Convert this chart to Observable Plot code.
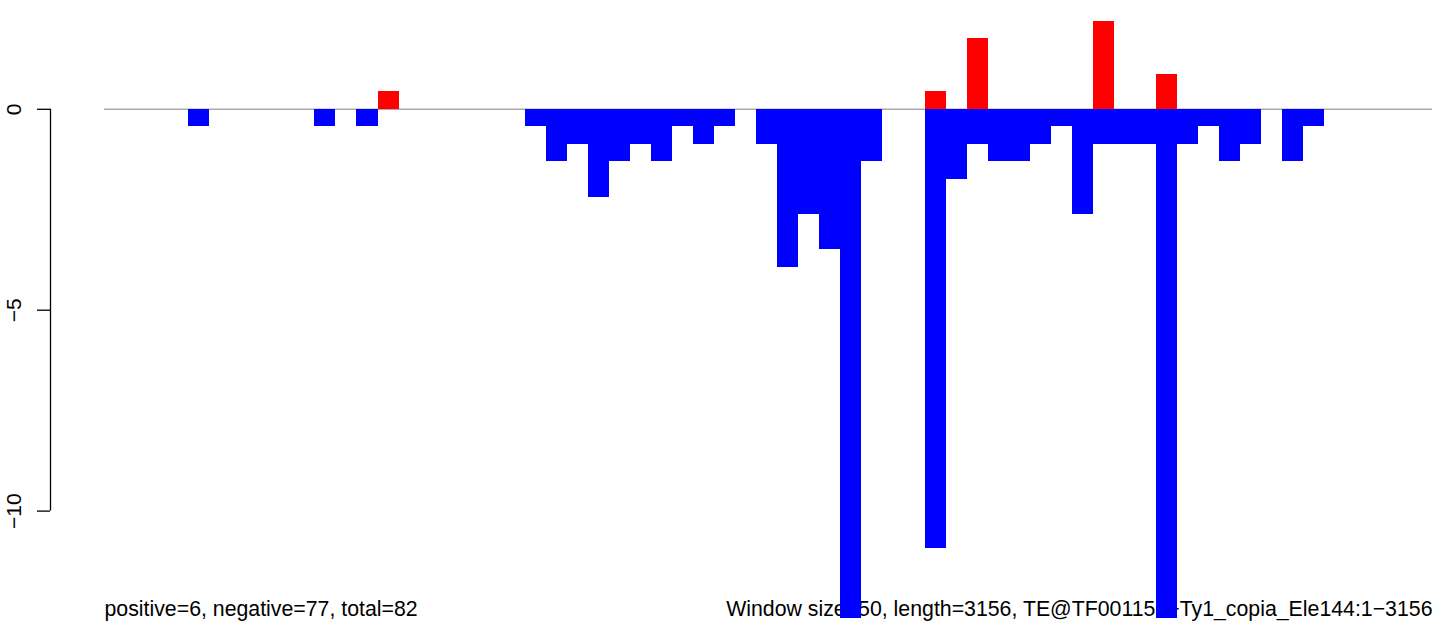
<!DOCTYPE html>
<html>
<head>
<meta charset="utf-8">
<script src="https://cdn.jsdelivr.net/npm/d3@7"></script>
<script src="https://cdn.jsdelivr.net/npm/@observablehq/plot@0.6"></script>
<style>
  html, body { margin: 0; padding: 0; background: #fff; overflow: hidden; }
  #chart svg { display: block; }
</style>
</head>
<body>
<div id="chart"></div>
<script>
// ---- data ----
const windowSize = 50;
const teLength = 3156;

// window start positions (bp) and values of the negative-strand bars
const negStarts = [200, 500, 600, 1000, 1050, 1100, 1150, 1200, 1250, 1300, 1350, 1400, 1450,
  1550, 1600, 1650, 1700, 1750, 1800,
  1950, 2000, 2050, 2100, 2150, 2200, 2250, 2300, 2350, 2400, 2450, 2500, 2550, 2600, 2650, 2700,
  2800, 2850];
const negValues = [-0.44, -0.44, -0.44, -0.44, -1.31, -0.87, -2.19, -1.31, -0.87, -1.31, -0.44, -0.87, -0.44,
  -0.87, -3.93, -2.62, -3.50, -12.68, -1.31,
  -10.93, -1.75, -0.87, -1.31, -1.31, -0.87, -0.44, -2.62, -0.87, -0.87, -0.87, -12.68, -0.87, -0.44, -1.31, -0.87,
  -1.31, -0.44];

// window start positions (bp) and values of the positive-strand bars
const posStarts = [650, 1950, 2050, 2350, 2500];
const posValues = [0.44, 0.44, 1.75, 2.19, 0.87];

const yTicks = [0, -5, -10];
const yTickLabels = ["0", "\u22125", "\u221210"];
const yDomain = [-12.68, 2.19];

const leftNote = ["positive=6, negative=77, total=82"];
const rightNote = ["Window size=50, length=3156, TE@TF001152\u2212Ty1_copia_Ele144:1\u22123156"];

// ---- tables built from the arrays ----
const negBars = negStarts.map((s, i) => ({start: s, end: s + windowSize, value: negValues[i]}));
const posBars = posStarts.map((s, i) => ({start: s, end: s + windowSize, value: posValues[i]}));
const tickTable = yTicks.map((t, i) => ({y: t, label: yTickLabels[i]}));

const font = "'Liberation Sans', Arial, Helvetica, sans-serif";

const chart = Plot.plot({
  width: 1444,
  height: 630,
  marginLeft: 104,
  marginRight: 12,
  marginTop: 20.8,
  marginBottom: 11.7,
  style: {fontFamily: font, fontSize: "21px", background: "#fff", color: "#000"},
  x: {domain: [0, teLength], axis: null},
  y: {domain: yDomain},
  marks: [
    // notes at the bottom (drawn first; the bars are painted over them)
    Plot.text(leftNote, {text: d => d, frameAnchor: "bottom-left", textAnchor: "start",
      lineAnchor: "bottom", dy: -3, fontSize: 21.3, fill: "#000"}),
    Plot.text(rightNote, {text: d => d, frameAnchor: "bottom-right", textAnchor: "end",
      lineAnchor: "bottom", dy: -3, fontSize: 21.3, fill: "#000"}),
    // zero line
    Plot.ruleY([0], {stroke: "#aaaaaa", strokeWidth: 1.5}),
    // bars
    Plot.rect(negBars, {x1: "start", x2: "end", y1: 0, y2: "value", fill: "#0000ff", clip: true,
      shapeRendering: "crispEdges"}),
    Plot.rect(posBars, {x1: "start", x2: "end", y1: 0, y2: "value", fill: "#ff0000", clip: true,
      shapeRendering: "crispEdges"}),
    // R-style y axis, offset to the left of the plot region
    Plot.axisY({ticks: yTicks, tickSize: 13, tickFormat: () => "", label: null, dx: -54, strokeWidth: 1.3}),
    Plot.ruleX([0], {y1: d3.min(yTicks), y2: d3.max(yTicks), dx: -54, stroke: "#000", strokeWidth: 1.3}),
    Plot.text(tickTable, {y: "y", text: "label", frameAnchor: "left", dx: -84, rotate: -90,
      textAnchor: "middle", lineAnchor: "bottom", fontSize: 21, fill: "#000"})
  ]
});

document.getElementById("chart").appendChild(chart);
</script>
</body>
</html>
